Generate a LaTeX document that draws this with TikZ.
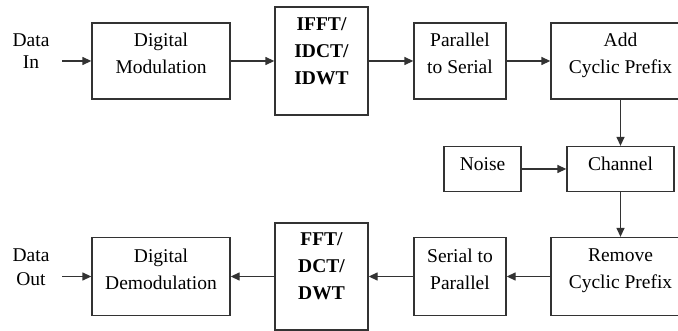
\documentclass[tikz,border=0pt]{standalone}
\usepackage{fontspec}
\setmainfont{Liberation Serif}
\usetikzlibrary{arrows.meta}

\begin{document}
\begin{tikzpicture}[x=1pt, y=-1pt, every node/.style={font=\fontsize{19.5}{27}\selectfont},
	>={Triangle[length=9pt, width=8pt]},
	blk/.style={draw=black!80, line width=1.3pt, inner sep=0pt, align=center},
	link/.style={->, draw=black!80, line width=1.3pt}]
	\useasboundingbox (0,0) rectangle (678,331);
	\clip (0,0) rectangle (678,331);
	% transmitter
	\node[align=center] (datain) at (31,51) {Data\\[-5pt]In};
	\coordinate (inpt) at (62,61);
	\node[blk, minimum width=138pt, minimum height=76pt] (mod) at (161,61) {Digital\\Modulation\\[-12pt]};
	\node[blk, minimum width=93pt, minimum height=108pt, font=\fontsize{19.5}{27}\selectfont\bfseries] (ifft) at (321.5,61) {IFFT/\\IDCT/\\IDWT\\[-7pt]};
	\node[blk, minimum width=92pt, minimum height=76pt] (ps) at (460,61) {Parallel\\to Serial\\[-12pt]};
	\node[blk, minimum width=139pt, minimum height=76pt] (acp) at (620.5,61) {Add\\Cyclic Prefix\\[-12pt]};
	% channel
	\node[blk, minimum width=77pt, minimum height=45pt] (noise) at (482.5,169) {Noise\\[-17pt]};
	\node[blk, minimum width=107pt, minimum height=45pt] (chan) at (620.5,169) {Channel\\[-17pt]};
	% receiver
	\node[blk, minimum width=139pt, minimum height=78pt] (rcp) at (620.5,276.5) {Remove\\Cyclic Prefix\\[-12pt]};
	\node[blk, minimum width=92pt, minimum height=78pt] (sp) at (460,276.5) {Serial to\\Parallel\\[-12pt]};
	\node[blk, minimum width=93pt, minimum height=107pt, font=\fontsize{19.5}{27}\selectfont\bfseries] (fft) at (321.5,276.5) {FFT/\\DCT/\\DWT\\[-7pt]};
	\node[blk, minimum width=138pt, minimum height=78pt] (demod) at (161,276.5) {Digital\\Demodulation\\[-12pt]};
	\node[align=center] (dataout) at (31,267) {Data\\[-3pt]Out};
	\coordinate (outpt) at (62,276.5);
	% arrows
	\draw[link] (inpt) -- (mod);
	\draw[link] (mod) -- (ifft);
	\draw[link] (ifft) -- (ps);
	\draw[link] (ps) -- (acp);
	\draw[link] (acp) -- (chan);
	\draw[link] (noise) -- (chan);
	\draw[link] (chan) -- (rcp);
	\draw[link] (rcp) -- (sp);
	\draw[link] (sp) -- (fft);
	\draw[link] (fft) -- (demod);
	\draw[link] (outpt) -- (demod);
\end{tikzpicture}
\end{document}
